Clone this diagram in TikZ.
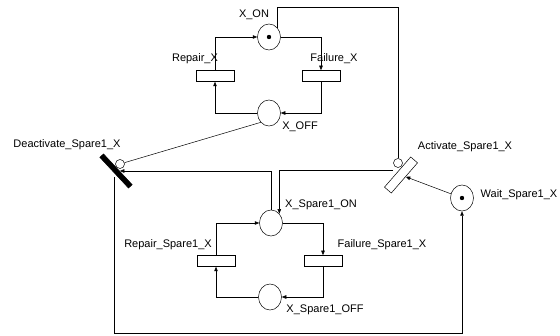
\documentclass[tikz,border=0pt]{standalone}
\usepackage{fontspec}
\setmainfont{Liberation Sans}
\usetikzlibrary{shapes.geometric,arrows.meta}
\tikzset{
  place/.style={draw,ellipse,minimum width=23pt,minimum height=26pt,inner sep=0pt,fill=white},
  trans/.style={draw,rectangle,minimum width=38pt,minimum height=11pt,inner sep=0pt,fill=white},
  inhib/.style={draw,circle,minimum size=9pt,inner sep=0pt,fill=white},
  arc/.style={-{Triangle[length=4.5pt,width=3.5pt]}},
  lbl/.style={inner sep=0pt,font=\fontsize{11}{13}\selectfont},
}
\begin{document}
\begin{tikzpicture}[x=1pt,y=-1pt,line width=0.5pt]
  \useasboundingbox (0,0) rectangle (560,336);
  % net of X
  \node[place] (XON) at (269,37) {};
  \node[place] (XOFF) at (269,113) {};
  \node[trans] (RepX) at (215,76) {};
  \node[trans] (FailX) at (321,76) {};
  \fill (XON) circle[radius=2.2];
  % net of the spare
  \node[place] (SON) at (271,223) {};
  \node[place] (SOFF) at (270,297) {};
  \node[trans] (RepS) at (216,261) {};
  \node[trans] (FailS) at (323,261) {};
  % switching part
  \node[place] (Wait) at (462,198) {};
  \fill (Wait) circle[radius=2.2];
  \node[trans,minimum width=40pt,minimum height=9pt,rotate=49] (Act) at (401,175) {};
  \node[draw,fill=black,minimum width=42pt,minimum height=5pt,inner sep=0pt,rotate=-47] (Deac) at (116,171) {};
  \node[inhib] (ActInh) at (398,163) {};
  \node[inhib] (DeacInh) at (120,164) {};
  % arcs of X
  \draw[arc] (XOFF.west) -| (RepX.south);
  \draw[arc] (RepX.north) |- (XON.west);
  \draw[arc] (XON.east) -| (FailX.north);
  \draw[arc] (FailX.south) |- (XOFF.east);
  % arcs of the spare
  \draw[arc] (SOFF.west) -| (RepS.south);
  \draw[arc] (RepS.north) |- (SON.west);
  \draw[arc] (SON.east) -| (FailS.north);
  \draw[arc] (FailS.south) |- (SOFF.east);
  % inhibitor arcs
  \coordinate (topR) at (398,7);
  \draw (XON.north east) |- (topR) -- (ActInh.north);
  \draw (XOFF.south west) -- (DeacInh);
  % activation and deactivation
  \coordinate (ActOut) at (393,170);
  \draw[arc] (ActOut) -| (SON.north east);
  \draw[arc] (SON.north) |- (Deac);
  \draw[arc] (Wait) -- (Act);
  \coordinate (DeacOut) at (114,177);
  \coordinate (loop) at (462,333);
  \draw[arc] (DeacOut) |- (loop) -- (Wait.south);
  % labels
  \node[lbl] (lXON) at (254,15) {X\_ON};
  \node[lbl] (lRepX) at (195,59) {Repair\_X};
  \node[lbl] (lFailX) at (334,59) {Failure\_X};
  \node[lbl] (lXOFF) at (300,127) {X\_OFF};
  \node[lbl] (lDeac) at (67,145) {Deactivate\_Spare1\_X};
  \node[lbl] (lAct) at (465,147) {Activate\_Spare1\_X};
  \node[lbl] (lWait) at (519,195) {Wait\_Spare1\_X};
  \node[lbl] (lSON) at (321,205) {X\_Spare1\_ON};
  \node[lbl] (lRepS) at (168,245) {Repair\_Spare1\_X};
  \node[lbl] (lFailS) at (382,245) {Failure\_Spare1\_X};
  \node[lbl] (lSOFF) at (325,310) {X\_Spare1\_OFF};
\end{tikzpicture}
\end{document}
